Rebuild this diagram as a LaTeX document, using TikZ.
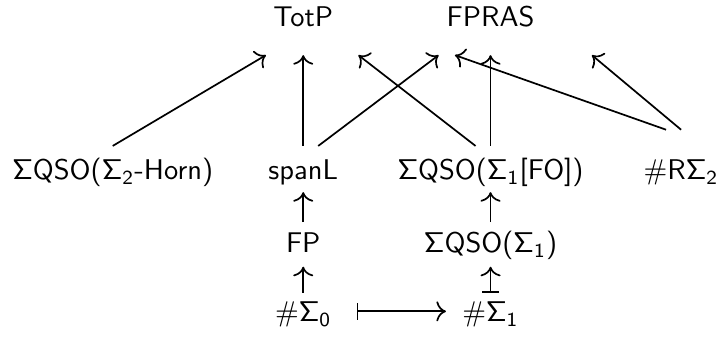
\documentclass[tikz,border=0pt]{standalone}
\usetikzlibrary{arrows.meta}

\begin{document}
\begin{tikzpicture}[
    cls/.style={font=\sffamily, anchor=base, inner sep=0pt},
    arr/.style={line width=0.6pt, -{Computer Modern Rightarrow[scale=1.15]}},
    mapsto/.style={line width=0.6pt, {Bar[width=6pt]}-{Computer Modern Rightarrow[scale=1.15]}}
]
\useasboundingbox (0,0) rectangle (8.88,-4.17);

% ===== TOP ROW =====
\node[cls] (totp) at (3.74,-0.33) {TotP};
\node[cls] (fpras) at (6.05,-0.33) {FPRAS};
\coordinate (free) at (7.30,-0.68);

% ===== SECOND ROW =====
\node[cls] (horn) at (1.39,-2.22) {$\mathsf{\Sigma}$QSO($\mathsf{\Sigma_2}$-Horn)};
\node[cls] (spanl) at (3.74,-2.22) {spanL};
\node[cls] (qsofo) at (6.05,-2.22) {$\mathsf{\Sigma}$QSO($\mathsf{\Sigma_1}$[FO])};
\node[cls] (rsigma) at (8.40,-2.22) {$\#$R$\mathsf{\Sigma_2}$};

% ===== LOWER ROWS =====
\node[cls] (fp) at (3.74,-3.12) {FP};
\node[cls] (qsoone) at (6.05,-3.12) {$\mathsf{\Sigma}$QSO($\mathsf{\Sigma_1}$)};
\node[cls] (sharpzero) at (3.74,-3.97) {$\#\mathsf{\Sigma_0}$};
\node[cls] (sharpone) at (6.05,-3.97) {$\#\mathsf{\Sigma_1}$};

% ===== LONG ARROWS TO THE TOP =====
\draw[arr] ([yshift=4.2mm]horn.base) -- ([xshift=-4.6mm,yshift=-3.5mm]totp.base);
\draw[arr] ([yshift=4.2mm]spanl.base) -- ([yshift=-3.5mm]totp.base);
\draw[arr] ([xshift=1.85mm,yshift=4.2mm]spanl.base) -- ([xshift=-6.4mm,yshift=-3.5mm]fpras.base);
\draw[arr] ([xshift=-1.85mm,yshift=4.2mm]qsofo.base) -- ([xshift=6.8mm,yshift=-3.5mm]totp.base);
\draw[arr] ([yshift=4.2mm]qsofo.base) -- ([yshift=-3.5mm]fpras.base);
\draw[arr] ([xshift=-1.85mm,yshift=6.2mm]rsigma.base) -- ([xshift=-4.4mm,yshift=-3.5mm]fpras.base);
\draw[arr] ([yshift=6.2mm]rsigma.base) -- (free);

% ===== SHORT ARROWS =====
\draw[arr] ([yshift=3.8mm]fp.base) -- ([yshift=-1.5mm]spanl.base);
\draw[arr] ([yshift=3.6mm]sharpzero.base) -- ([yshift=-1.7mm]fp.base);
\draw[arr] ([yshift=3.8mm]qsoone.base) -- ([yshift=-1.5mm]qsofo.base);
\draw[mapsto] ([yshift=3.6mm]sharpone.base) -- ([yshift=-1.7mm]qsoone.base);
\draw[mapsto] ([xshift=6.6mm,yshift=1.3mm]sharpzero.base) -- ([xshift=-5.5mm,yshift=1.3mm]sharpone.base);

\end{tikzpicture}
\end{document}
